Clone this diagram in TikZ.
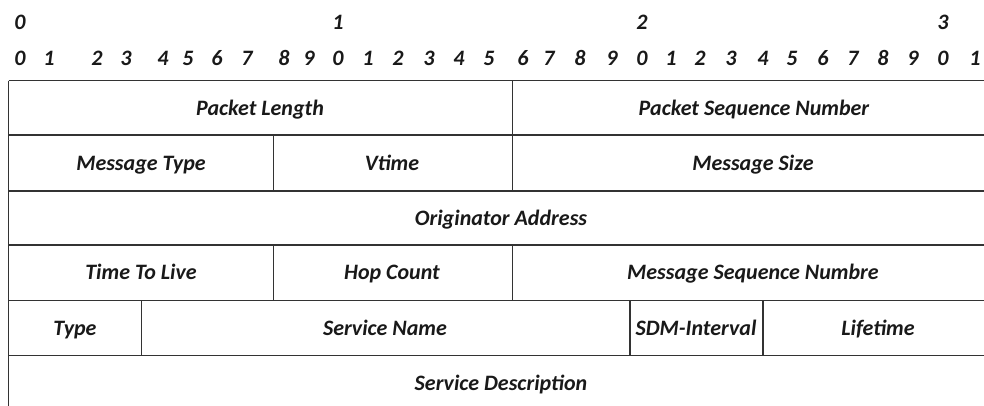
\documentclass[tikz,border=0pt]{standalone}
\usepackage{fontspec}
\setmainfont{Carlito}
\tikzset{
  grid line/.style={line width=1.3pt, draw=black!80},
  field/.style={font=\fontsize{22}{24}\selectfont\bfseries\itshape, text=black!90,
    inner sep=0pt, text height=14pt, text depth=0pt},
  bitnum/.style={font=\fontsize{22}{24}\selectfont\bfseries\itshape, text=black!90,
    inner sep=0pt, text height=14pt, text depth=0pt},
}
\begin{document}
\begin{tikzpicture}[x=1pt, y=-1pt]
\useasboundingbox (0,0) rectangle (984,405);
\clip (0,0) rectangle (984,405);

% tens digits of the bit ruler
\foreach \x/\d [count=\i] in {20/0, 338/1, 642/2, 943/3}
  \node[bitnum] (tens\i) at (\x,22) {\d};

% units digits of the bit ruler
\foreach \x/\d [count=\i] in {20/0, 49/1, 97/2, 126/3, 163/4, 188/5, 217/6, 247/7,
    284/8, 309/9, 338/0, 368/1, 398/2, 429/3, 459/4, 489/5,
    523/6, 549/7, 580/8, 612/9, 642/0, 671/1, 700/2, 731/3,
    763/4, 792/5, 823/6, 853/7, 883/8, 913/9, 943/0, 975/1}
  \node[bitnum] (bit\i) at (\x,58) {\d};

% row boundaries
\foreach \y in {80.7, 135, 191, 245, 300.5, 355.5}
  \draw[grid line] (8.5,\y) -- (1000,\y);
% left border
\draw[grid line] (8.5,80.7) -- (8.5,420);
% field separators
\draw[grid line] (512.3,80.7) -- (512.3,191);
\draw[grid line] (512.3,245) -- (512.3,300.5);
\draw[grid line] (273.3,135) -- (273.3,191);
\draw[grid line] (273.3,245) -- (273.3,300.5);
\draw[grid line] (141.3,300.5) -- (141.3,355.5);
\draw[grid line] (630,300.5) -- (630,355.5);
\draw[grid line] (763,300.5) -- (763,355.5);

% field names
\node[field] (plen)  at (260,108) {Packet Length};
\node[field] (pseq)  at (754,108) {Packet Sequence Number};
\node[field] (mtype) at (141,163) {Message Type};
\node[field] (vtime) at (392,163) {Vtime};
\node[field] (msize) at (753,163) {Message Size};
\node[field] (orig)  at (501,218) {Originator Address};
\node[field] (ttl)   at (141,272) {Time To Live};
\node[field] (hops)  at (392,272) {Hop Count};
\node[field] (mseq)  at (753,272) {Message Sequence Numbre};
\node[field] (stype) at (75,328) {Type};
\node[field] (sname) at (385,328) {Service Name};
\node[field] (sdm)   at (696,328) {SDM-Interval};
\node[field] (life)  at (878,328) {Lifetime};
\node[field] (sdesc) at (501,383) {Service Description};
\end{tikzpicture}
\end{document}
